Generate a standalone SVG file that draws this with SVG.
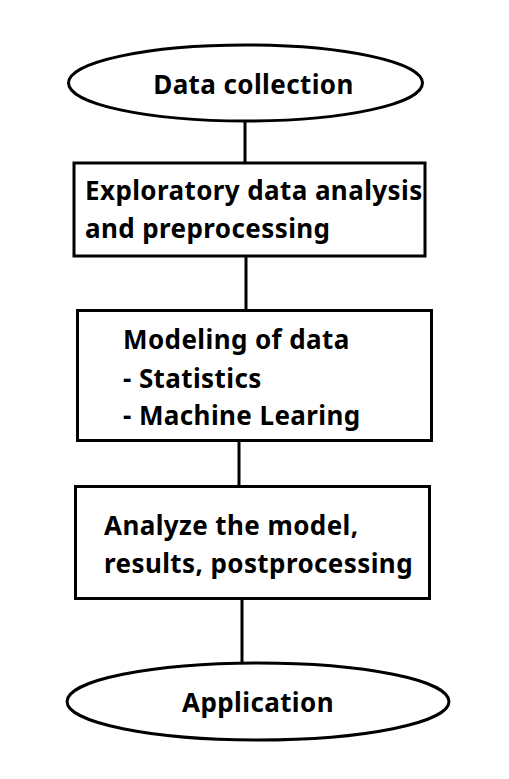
<svg xmlns="http://www.w3.org/2000/svg" width="509" height="779" viewBox="0 0 509 779">
<style>
.s{fill:#fff;stroke:#000;stroke-width:3}
.c{stroke:#000;stroke-width:3;fill:none}
text{font-family:"Noto Sans","Noto Sans CJK KR",sans-serif;font-weight:bold;font-size:26px;letter-spacing:0.4px;fill:#000}
</style>
<rect width="509" height="779" fill="#fff"/>
<g id="connectors">
<line class="c" x1="245" y1="121" x2="245" y2="163"/>
<line class="c" x1="246" y1="257" x2="246" y2="310"/>
<line class="c" x1="239" y1="441" x2="239" y2="486"/>
<line class="c" x1="242" y1="599" x2="242" y2="663"/>
</g>
<g id="n1">
<ellipse class="s" cx="245.5" cy="83" rx="177" ry="38"/>
<text x="253.5" y="94" text-anchor="middle">Data collection</text>
</g>
<g id="n2">
<rect class="s" x="74" y="163" width="351" height="93"/>
<text x="85" y="200">Exploratory data analysis</text>
<text x="85" y="238">and preprocessing</text>
</g>
<g id="n3">
<rect class="s" x="77.5" y="310.5" width="354" height="130"/>
<text x="123" y="349">Modeling of data</text>
<text x="123" y="388">- Statistics</text>
<text x="123" y="425">- Machine Learing</text>
</g>
<g id="n4">
<rect class="s" x="75.5" y="486.5" width="354" height="112"/>
<text x="104" y="535">Analyze the model,</text>
<text x="104" y="573">results, postprocessing</text>
</g>
<g id="n5">
<ellipse class="s" cx="258" cy="701.5" rx="191" ry="38.5"/>
<text x="258" y="712" text-anchor="middle">Application</text>
</g>
</svg>
